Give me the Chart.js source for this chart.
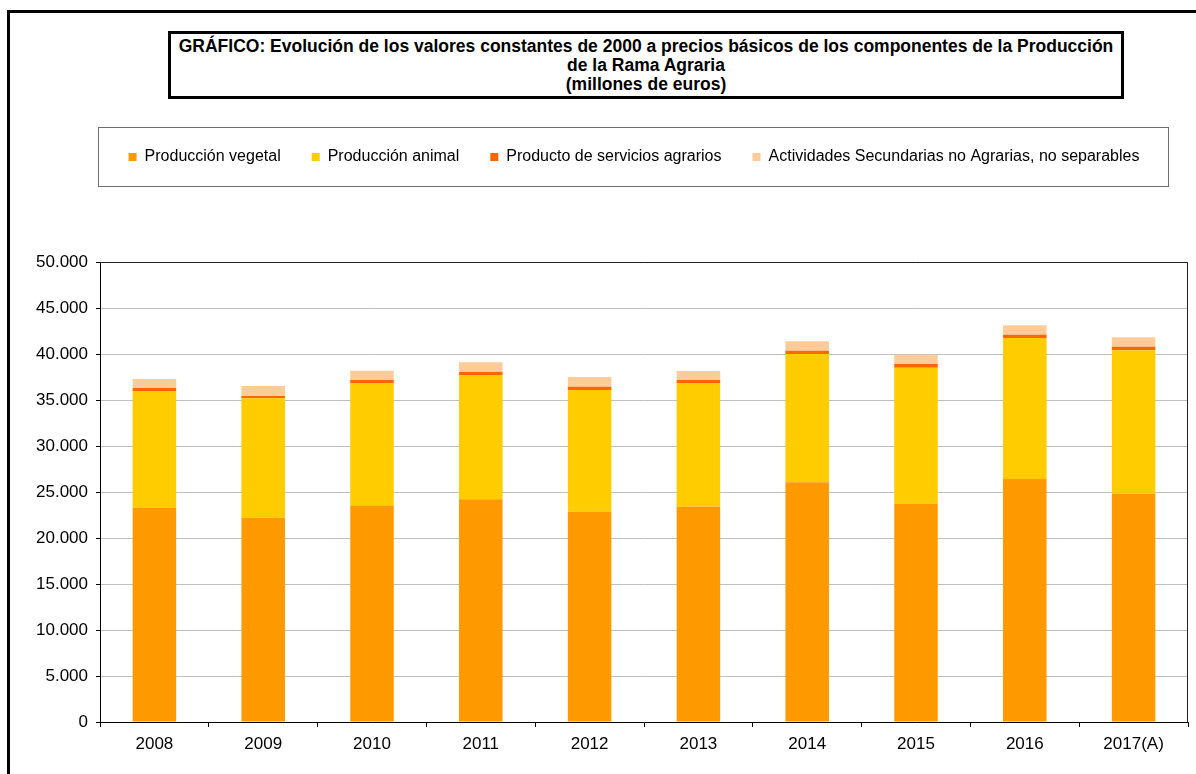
<!DOCTYPE html>
<html>
<head>
<meta charset="utf-8">
<script src="https://cdn.jsdelivr.net/npm/chart.js@4/dist/chart.umd.min.js"></script>
<style>
  html, body { margin: 0; padding: 0; background: #fff; overflow: hidden; }
  body { width: 1196px; height: 774px; position: relative; font-family: "Liberation Sans", Arial, sans-serif; }
  #frame { position: absolute; left: 7px; top: 10px; width: 1300px; height: 900px; border: 3px solid #000; box-sizing: border-box; }
  #titleBox { position: absolute; left: 168px; top: 31px; width: 956px; height: 68px; border: 3px solid #000; box-sizing: border-box;
    font-weight: bold; font-size: 17.5px; line-height: 19px; text-align: center; color: #000; padding-top: 3px; white-space: nowrap; }
  #legendBox { position: absolute; left: 98px; top: 127px; width: 1071px; height: 60px; border: 1px solid #6e6e6e; box-sizing: border-box; }
  #wrap { position: absolute; left: 0; top: 0; width: 1196px; height: 774px; }
</style>
</head>
<body>
<div id="frame"></div>
<div id="titleBox">GRÁFICO: Evolución de los valores constantes de 2000 a precios básicos de los componentes de la Producción<br>de la Rama Agraria<br>(millones de euros)</div>
<div id="legendBox"></div>
<div id="wrap"><canvas id="c" width="1196" height="774"></canvas></div>
<script>
const years = ['2008', '2009', '2010', '2011', '2012', '2013', '2014', '2015', '2016', '2017(A)'];
const vegetal = [23300, 22210, 23520, 24200, 22860, 23400, 26050, 23730, 26410, 24820];
const animal = [12680, 12975, 13330, 13520, 13230, 13450, 13950, 14780, 15330, 15580];
const servicios = [330, 250, 320, 320, 360, 320, 360, 400, 360, 390];
const secundarias = [980, 1085, 1020, 1050, 1050, 980, 1020, 1020, 1020, 1020];
const seriesNames = ['Producción vegetal', 'Producción animal', 'Producto de servicios agrarios', 'Actividades Secundarias no Agrarias, no separables'];
const seriesColors = ['#FF9900', '#FFCC00', '#FF6600', '#FFCC99'];
const yTicks = [0, 5000, 10000, 15000, 20000, 25000, 30000, 35000, 40000, 45000, 50000];

const FONT = '"Liberation Sans", Arial, sans-serif';
Chart.defaults.font.family = FONT;
Chart.defaults.color = '#000';

const fmt = v => String(v).replace(/\B(?=(\d{3})+(?!\d))/g, '.');

const layoutPlugin = {
  id: 'layoutPlugin',
  beforeLayout(chart) {
    const lg = chart.legend;
    if (lg && !lg._patched) {
      const f = lg.fit;
      lg.fit = function () { f.call(this); this.height = 262; };
      lg._patched = true;
    }
  },
  afterLayout(chart) {
    const lg = chart.legend;
    if (lg) { lg.top = 118; lg.left = 96; lg.right = 1172; }
  },
  afterDatasetsDraw(chart) {
    const a = chart.chartArea, ctx = chart.ctx;
    ctx.save();
    ctx.strokeStyle = '#222';
    ctx.lineWidth = 1;
    ctx.beginPath();
    ctx.moveTo(a.left, a.top + 0.5);
    ctx.lineTo(a.right - 0.5, a.top + 0.5);
    ctx.lineTo(a.right - 0.5, a.bottom);
    ctx.stroke();
    ctx.restore();
  }
};

const datasets = [vegetal, animal, servicios, secundarias].map((d, i) => ({
  label: seriesNames[i],
  data: d,
  backgroundColor: seriesColors[i],
  borderWidth: 0,
  barPercentage: 0.4,
  categoryPercentage: 1.0
}));

new Chart(document.getElementById('c'), {
  type: 'bar',
  data: { labels: years, datasets },
  plugins: [layoutPlugin],
  options: {
    responsive: false,
    animation: false,
    layout: { padding: { left: 0, right: 8, top: 0, bottom: 0 } },
    plugins: {
      title: { display: false },
      tooltip: { enabled: false },
      legend: {
        display: true,
        position: 'top',
        align: 'center',
        labels: {
          boxWidth: 8,
          boxHeight: 8,
          padding: 31,
          color: '#000',
          font: { size: 16, family: FONT }
        }
      }
    },
    scales: {
      x: {
        stacked: true,
        afterFit(s) { s.height = 52; },
        grid: { display: true, drawOnChartArea: false, drawTicks: true, tickLength: 5, tickColor: '#000', offset: true },
        border: { display: true, color: '#000', width: 1 },
        ticks: { color: '#000', font: { size: 17, family: FONT }, padding: 7, maxRotation: 0 }
      },
      y: {
        stacked: true,
        min: 0,
        max: 50000,
        afterFit(s) { s.width = 100; },
        afterBuildTicks(s) { s.ticks = yTicks.map(v => ({ value: v })); },
        grid: { color: '#c0c0c0', lineWidth: 1, tickLength: 4, tickColor: '#000' },
        border: { display: true, color: '#000', width: 1 },
        ticks: { color: '#000', font: { size: 17, family: FONT }, padding: 8, callback: v => fmt(v) }
      }
    }
  }
});
</script>
</body>
</html>
